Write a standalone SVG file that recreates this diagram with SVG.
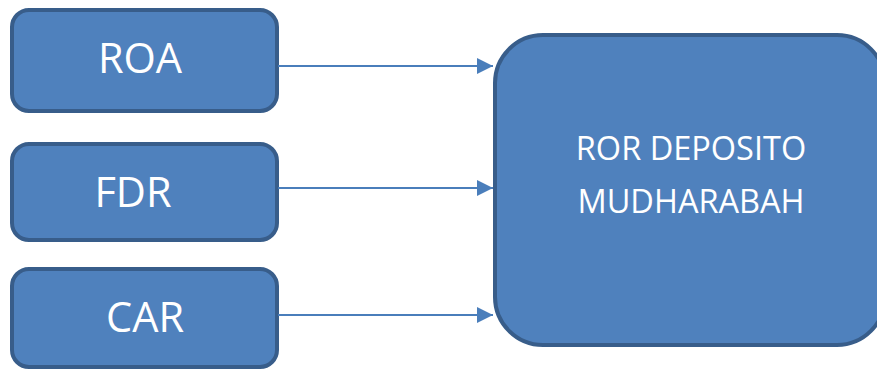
<svg xmlns="http://www.w3.org/2000/svg" width="877" height="373" viewBox="0 0 877 373">
<style>
.box{fill:#4F81BD;stroke:#385D8A;stroke-width:4}
.lbl{fill:#FFFFFF;font-family:"Open Sans","Noto Sans","Liberation Sans",sans-serif;text-anchor:middle}
.conn{stroke:#4A7EBB;stroke-width:2.2;fill:none}
</style>
<defs>
<marker id="ah" markerUnits="userSpaceOnUse" markerWidth="16" markerHeight="16" refX="16" refY="8" orient="auto">
<path d="M0,0 L16,8 L0,16 Z" fill="#4A7EBB"/>
</marker>
</defs>
<rect x="0" y="0" width="877" height="373" fill="#FFFFFF"/>
<g id="roa">
<rect class="box" x="12" y="10" width="265" height="101" rx="17"/>
<text class="lbl" x="140" y="73" font-size="41.5">ROA</text>
</g>
<g id="fdr">
<rect class="box" x="12" y="144" width="265" height="96" rx="17"/>
<text class="lbl" x="133" y="207" font-size="41.5">FDR</text>
</g>
<g id="car">
<rect class="box" x="12" y="269" width="265" height="98" rx="17"/>
<text class="lbl" x="145" y="332" font-size="41.5">CAR</text>
</g>
<g id="ror">
<rect class="box" x="495" y="35" width="390" height="310" rx="48"/>
<text class="lbl" x="691" y="160" font-size="32.5">ROR DEPOSITO</text>
<text class="lbl" x="691" y="213" font-size="32.5">MUDHARABAH</text>
</g>
<g id="connectors">
<line class="conn" x1="278" y1="66" x2="493" y2="66" marker-end="url(#ah)"/>
<line class="conn" x1="278" y1="188" x2="493" y2="188" marker-end="url(#ah)"/>
<line class="conn" x1="278" y1="315" x2="493" y2="315" marker-end="url(#ah)"/>
</g>
</svg>
